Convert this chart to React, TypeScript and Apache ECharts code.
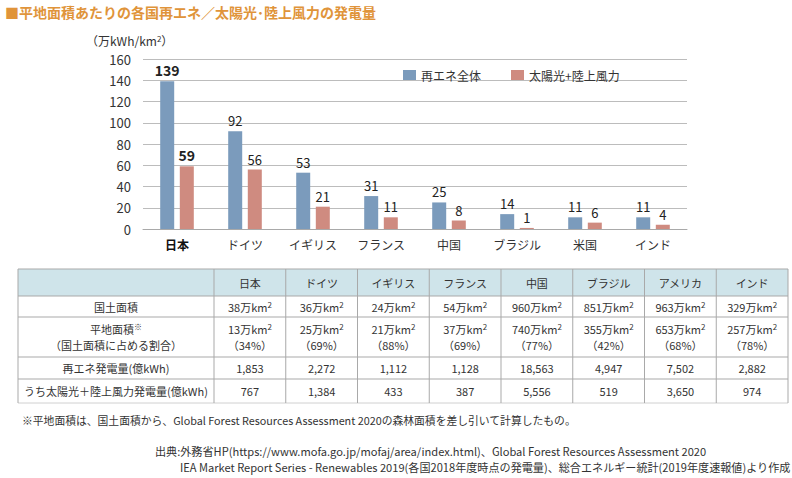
import React, { useEffect, useRef } from "react";
import * as echarts from "echarts";

const titleText = "■平地面積あたりの各国再エネ／太陽光･陸上風力の発電量";
const unitText = "（万kWh/km{s|2}）";
const categories = ["日本", "ドイツ", "イギリス", "フランス", "中国", "ブラジル", "米国", "インド"];
const seriesNames = ["再エネ全体", "太陽光+陸上風力"];
const totalValues = [139, 92, 53, 31, 25, 14, 11, 11];
const solarWindValues = [59, 56, 21, 11, 8, 1, 6, 4];
const yTicks = { min: 0, max: 160, interval: 20 };

const tableHeader = ["日本", "ドイツ", "イギリス", "フランス", "中国", "ブラジル", "アメリカ", "インド"];
const rowLabels = [
  "国土面積",
  "平地面積{s|※}\n（国土面積に占める割合）",
  "再エネ発電量(億kWh)",
  "うち太陽光＋陸上風力発電量(億kWh)",
];
const landArea = ["38", "36", "24", "54", "960", "851", "963", "329"];
const flatArea = ["13", "25", "21", "37", "740", "355", "653", "257"];
const flatShare = ["34%", "69%", "88%", "69%", "77%", "42%", "68%", "78%"];
const renewGen = ["1,853", "2,272", "1,112", "1,128", "18,563", "4,947", "7,502", "2,882"];
const solarWindGen = ["767", "1,384", "433", "387", "5,556", "519", "3,650", "974"];

const footnote = "※平地面積は、国土面積から、Global Forest Resources Assessment 2020の森林面積を差し引いて計算したもの。";
const source1 = "出典:外務省HP(https://www.mofa.go.jp/mofaj/area/index.html)、Global Forest Resources Assessment 2020";
const source2 = "IEA Market Report Series - Renewables 2019(各国2018年度時点の発電量)、総合エネルギー統計(2019年度速報値)より作成";

const FONT = "'Noto Sans CJK JP', 'Noto Sans', sans-serif";
const BLUE = "#7b9bbc";
const RED = "#cf8b80";
const TEXT = "#333";

export default function App() {
  const ref = useRef<HTMLDivElement>(null);
  useEffect(() => {
    if (!ref.current) return;
    const chart = echarts.init(ref.current, undefined, { renderer: "svg" });

    const colX = [18, 214];
    const colW = (788 - 214) / 8;
    for (let i = 1; i <= 8; i++) colX.push(214 + colW * i);
    const rowY = [269, 296, 317, 357, 379, 403];

    const cellRich = {
      a: { fontSize: 11, fontFamily: FONT, fill: TEXT, lineHeight: 16 },
      s: { fontSize: 8, fontFamily: FONT, fill: TEXT, padding: [0, 0, 5, 0], lineHeight: 16 },
    };

    const g: any[] = [];
    g.push({ type: "rect", shape: { x: colX[0], y: rowY[0], width: colX[9] - colX[0], height: rowY[1] - rowY[0] }, style: { fill: "#cfe4ea" } });
    rowY.forEach((y, i) => {
      g.push({ type: "line", shape: { x1: colX[0], y1: y, x2: colX[9], y2: y }, style: { stroke: i === rowY.length - 1 ? "#d0d0d0" : "#a9a9a9", lineWidth: 1 } });
    });
    colX.forEach((x) => {
      g.push({ type: "line", shape: { x1: x, y1: rowY[0], x2: x, y2: rowY[5] }, style: { stroke: "#a9a9a9", lineWidth: 1 } });
    });
    const cx = (c: number) => (colX[c] + colX[c + 1]) / 2;
    const cy = (r: number) => (rowY[r] + rowY[r + 1]) / 2;
    const addText = (x: number, y: number, text: string) => {
      g.push({
        type: "text",
        x, y,
        style: { text, fill: TEXT, fontSize: 11, fontFamily: FONT, align: "center", verticalAlign: "middle", lineHeight: 16, rich: cellRich },
      });
    };
    tableHeader.forEach((h, i) => addText(cx(i + 1), cy(0), h));
    rowLabels.forEach((l, r) => addText(cx(0), cy(r + 1), l.split("\n").map((p) => (p.includes("{") ? p.replace(/^([^{]*)/, "{a|$1}") : "{a|" + p + "}")).join("\n")));
    landArea.forEach((v, i) => addText(cx(i + 1), cy(1), `{a|${v}万km}{s|2}`));
    flatArea.forEach((v, i) => addText(cx(i + 1), cy(2), `{a|${v}万km}{s|2}\n{a|（${flatShare[i]}）}`));
    renewGen.forEach((v, i) => addText(cx(i + 1), cy(3), `{a|${v}}`));
    solarWindGen.forEach((v, i) => addText(cx(i + 1), cy(4), `{a|${v}}`));

    g.push({ type: "text", x: 5, y: 12, style: { text: titleText, fill: "#e0943a", fontSize: 14, fontWeight: "bold", fontFamily: FONT, verticalAlign: "middle" } });
    g.push({ type: "text", x: 86, y: 40, style: { text: unitText, fill: TEXT, fontSize: 12, lineHeight: 12, fontFamily: FONT, verticalAlign: "middle", rich: { s: { fontSize: 8, lineHeight: 12, fill: TEXT, fontFamily: FONT, padding: [0, 0, 4, 0] } } } });
    g.push({ type: "text", x: 22, y: 420, style: { text: footnote, fill: TEXT, fontSize: 10.8, fontFamily: FONT, verticalAlign: "middle" } });
    g.push({ type: "text", x: 155, y: 451, style: { text: source1, fill: TEXT, fontSize: 11.1, fontFamily: FONT, verticalAlign: "middle" } });
    g.push({ type: "text", x: 180, y: 467, style: { text: source2, fill: TEXT, fontSize: 11.1, fontFamily: FONT, verticalAlign: "middle" } });

    const mkData = (arr: number[]) => arr.map((v, i) => (i === 0 ? { value: v, label: { fontWeight: "bold", fontSize: 14 } } : v));

    chart.setOption({
      animation: false,
      textStyle: { fontFamily: FONT },
      grid: { left: 143, top: 59, width: 544, height: 170, containLabel: false },
      legend: {
        left: 398, top: 64, itemWidth: 13, itemHeight: 10, itemGap: 30, icon: "rect",
        textStyle: { color: TEXT, fontSize: 12, fontFamily: FONT },
        data: seriesNames,
      },
      xAxis: {
        type: "category",
        data: categories,
        axisLine: { lineStyle: { color: "#a9a9a9" } },
        axisTick: { show: false },
        axisLabel: {
          color: TEXT, fontSize: 12, margin: 9, fontFamily: FONT,
          formatter: (v: string, i: number) => (i === 0 ? `{b|${v}}` : v),
          rich: { b: { fontWeight: "bold", fontSize: 12, color: "#111", fontFamily: FONT } },
        },
      },
      yAxis: {
        type: "value",
        min: yTicks.min, max: yTicks.max, interval: yTicks.interval,
        axisLine: { show: false },
        axisTick: { show: false },
        axisLabel: { color: TEXT, fontSize: 13, lineHeight: 13, margin: 12, fontFamily: FONT },
        splitLine: { lineStyle: { color: "#bcbcbc" } },
      },
      series: [
        {
          name: seriesNames[0], type: "bar", data: mkData(totalValues), barWidth: 14, barGap: "40%",
          itemStyle: { color: BLUE },
          label: { show: true, position: "top", color: "#222", fontSize: 13, distance: 4, fontFamily: FONT },
        },
        {
          name: seriesNames[1], type: "bar", data: mkData(solarWindValues), barWidth: 14,
          itemStyle: { color: RED },
          label: { show: true, position: "top", color: "#222", fontSize: 13, distance: 4, fontFamily: FONT },
        },
      ],
      graphic: g,
    });
    return () => chart.dispose();
  }, []);
  return <div ref={ref} style={{ position: "fixed", left: 0, top: 0, width: 792, height: 478, background: "#fff" }} />;
}
